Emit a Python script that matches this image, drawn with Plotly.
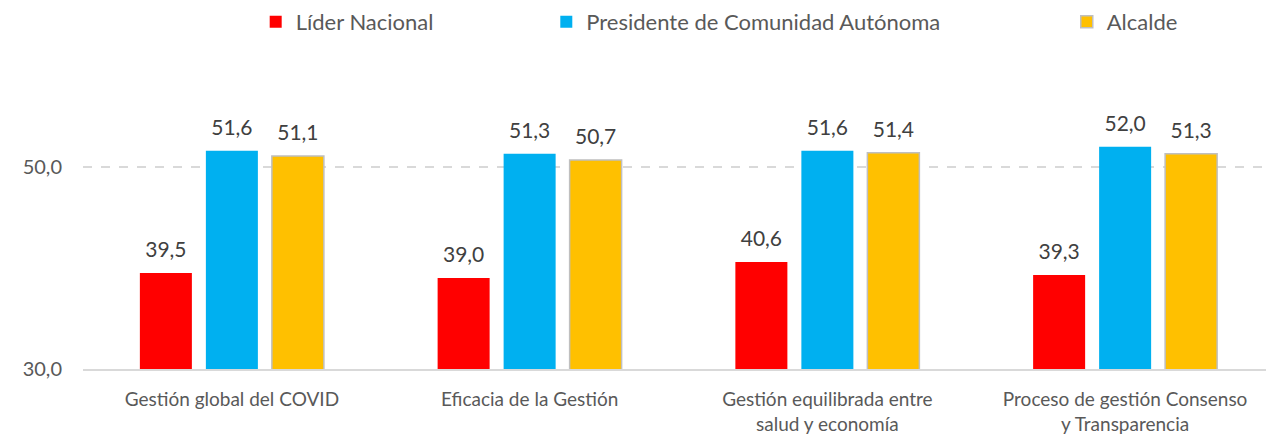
import plotly.graph_objects as go

categories = ["Gestión global del COVID", "Eficacia de la Gestión",
              "Gestión equilibrada entre<br>salud y economía",
              "Proceso de gestión Consenso<br>y Transparencia"]
lider = [39.5, 39.0, 40.6, 39.3]
presidente = [51.6, 51.3, 51.6, 52.0]
alcalde = [51.1, 50.7, 51.4, 51.3]

series = [
    ("Líder Nacional", lider, "#FF0000", None, "legend", 0.145),
    ("Presidente de Comunidad Autónoma", presidente, "#00B0F0", None, "legend2", 0.389),
    ("Alcalde", alcalde, "#FFC000", "#BFBFBF", "legend3", 0.826),
]

fig = go.Figure()
for i, (name, vals, color, line, leg, _) in enumerate(series):
    fig.add_trace(go.Bar(
        x=categories, y=vals, name=name,
        marker=dict(color=color, line=dict(color=line or color, width=1.5 if line else 0)),
        offsetgroup=str(i), legend=leg,
    ))
# value labels as grouped text points so they can sit a little above the bars
for i, (name, vals, color, line, leg, _) in enumerate(series):
    fig.add_trace(go.Scatter(
        x=categories, y=vals, mode="markers+text",
        text=[f"{v:.1f}".replace(".", ",") for v in vals],
        textposition="top center", textfont=dict(size=21, color="#404040"),
        marker=dict(size=15, opacity=0), offsetgroup=str(i), legend=leg,
        showlegend=False, hoverinfo="skip", cliponaxis=False,
    ))

legend_style = dict(orientation="h", yref="paper", xanchor="left",
                    font=dict(size=22, color="#595959"),
                    bgcolor="rgba(0,0,0,0)")
layout_legends = {}
for name, vals, color, line, leg, xpos in series:
    layout_legends[leg] = dict(legend_style, x=xpos, y=1.215, yanchor="top")

# page body has an 8px margin, so the figure is shrunk by that amount
fig.update_layout(
    width=1266, height=433,
    margin=dict(l=75, r=0, t=58, b=72, autoexpand=False),
    paper_bgcolor="white", plot_bgcolor="white",
    font=dict(family="Lato, sans-serif", color="#595959"),
    separators=",.",
    barmode="group", bargap=0.335, bargroupgap=0.212,
    scattermode="group", scattergap=0.335,
    showlegend=True,
    **layout_legends,
)
fig.update_xaxes(showline=True, linecolor="#D9D9D9", linewidth=2,
                 tickfont=dict(size=19, color="#595959"), ticks="",
                 ticklabelstandoff=12, automargin=False)
fig.update_yaxes(range=[30, 60], tickvals=[30, 50], ticktext=["30,0", "50,0"],
                 showgrid=True, gridcolor="#D9D9D9", griddash="dash", gridwidth=1.5,
                 zeroline=False, tickfont=dict(size=20, color="#595959"), ticks="",
                 ticklabelstandoff=20, automargin=False)

fig.write_html("out.html")
